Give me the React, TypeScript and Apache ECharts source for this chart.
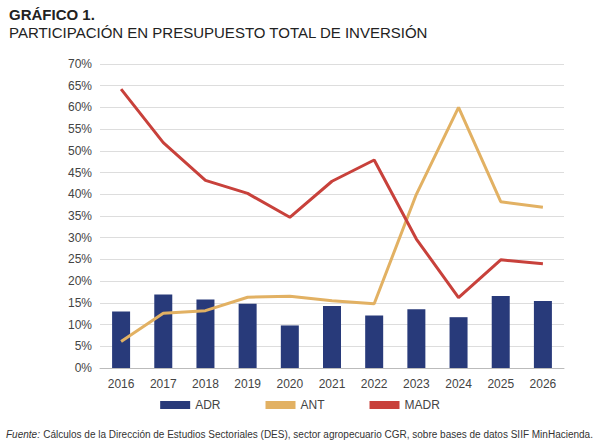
import { useEffect, useRef } from 'react'
import * as echarts from 'echarts'

const years = ['2016', '2017', '2018', '2019', '2020', '2021', '2022', '2023', '2024', '2025', '2026']
const adr = [13, 16.9, 15.8, 14.8, 9.8, 14.3, 12.1, 13.5, 11.7, 16.6, 15.4]
const ant = [6.1, 12.6, 13.2, 16.3, 16.5, 15.5, 14.8, 40, 60, 38.3, 37]
const madr = [64.2, 51.9, 43.2, 40.2, 34.7, 43, 47.9, 29.7, 16.2, 24.9, 24]

const font = '"Liberation Sans Narrow", "Liberation Sans", Arial, sans-serif'

export default function App() {
  const ref = useRef<HTMLDivElement | null>(null)

  useEffect(() => {
    if (!ref.current) return
    const chart = echarts.init(ref.current, null, { renderer: 'svg' })
    chart.setOption({
      animation: false,
      textStyle: { fontFamily: font },
      title: {
        text: 'GRÁFICO 1.',
        subtext: 'PARTICIPACIÓN EN PRESUPUESTO TOTAL DE INVERSIÓN',
        left: 4,
        top: 2,
        itemGap: 3,
        textStyle: { fontFamily: font, fontSize: 15, fontWeight: 'bold', color: '#222' },
        subtextStyle: { fontFamily: font, fontSize: 15, color: '#222' },
      },
      graphic: [
        {
          type: 'text',
          left: 6,
          top: 428,
          style: {
            rich: {
              i: { fontStyle: 'italic', fontFamily: font, fontSize: 10, fill: '#333' },
              n: { fontFamily: font, fontSize: 10, fill: '#333' },
            },
            text: '{i|Fuente:} {n|Cálculos de la Dirección de Estudios Sectoriales (DES), sector agropecuario CGR, sobre bases de datos SIIF MinHacienda.}',
          },
        },
      ],
      legend: {
        bottom: 28,
        left: 'center',
        itemGap: 45,
        itemWidth: 30,
        itemHeight: 8,
        textStyle: { fontFamily: font, fontSize: 12, color: '#444' },
        data: [
          { name: 'ADR', icon: 'rect' },
          { name: 'ANT', icon: 'rect' },
          { name: 'MADR', icon: 'rect' },
        ],
      },
      grid: { left: 100, right: 36, top: 64, bottom: 76 },
      xAxis: {
        type: 'category',
        data: years,
        axisTick: { show: false },
        axisLine: { lineStyle: { color: '#bbb' } },
        axisLabel: { color: '#444', fontSize: 12, margin: 10 },
      },
      yAxis: {
        type: 'value',
        min: 0,
        max: 70,
        interval: 5,
        axisLabel: { formatter: '{value}%', color: '#444', fontSize: 12 },
        splitLine: { lineStyle: { color: '#ddd' } },
        axisLine: { show: false },
        axisTick: { show: false },
      },
      series: [
        { name: 'ADR', type: 'bar', data: adr, barWidth: 18, itemStyle: { color: '#283a7a' } },
        { name: 'ANT', type: 'line', data: ant, symbol: 'none', lineStyle: { width: 3, color: '#e2b163' }, itemStyle: { color: '#e2b163' } },
        { name: 'MADR', type: 'line', data: madr, symbol: 'none', lineStyle: { width: 3, color: '#c8413b' }, itemStyle: { color: '#c8413b' } },
      ],
    })
    return () => chart.dispose()
  }, [])

  return <div ref={ref} style={{ width: 600, height: 444, position: 'absolute', left: 0, top: 0, background: '#fff' }} />
}
